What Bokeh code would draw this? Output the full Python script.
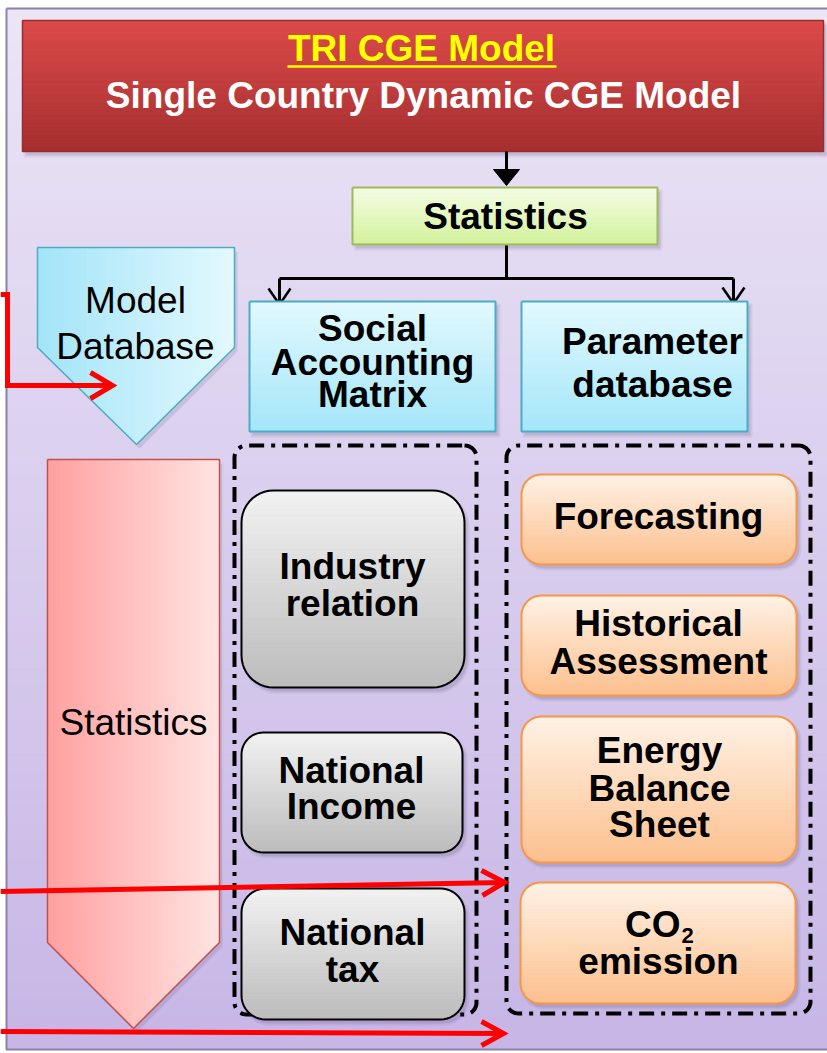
import numpy as np
from bokeh.plotting import figure
from bokeh.models import Range1d
from bokeh.core.properties import value
from bokeh.embed import file_html
from bokeh.resources import INLINE

# ---------------- content ----------------
title_text = "TRI CGE Model"
subtitle_text = "Single Country Dynamic CGE Model"
top_stat_label = ["Statistics"]
db_label = ["Model", "Database"]
side_stat_label = ["Statistics"]
blue_labels = [["Social", "Accounting", "Matrix"], ["Parameter", "database"]]
gray_labels = [["Industry", "relation"], ["National", "Income"], ["National", "tax"]]
orange_labels = [["Forecasting"], ["Historical", "Assessment"],
                 ["Energy", "Balance", "Sheet"], ["CO", "emission"]]
co2_sub = "2"

# ---------------- geometry (image pixel coords, y downward) ----------------
panel = (6, 8, 845, 1049)
title_box = (22, 20, 823, 151)
green_box = (352, 187, 657, 244)
blue_boxes = [(249, 301, 495, 431), (521, 301, 747, 431)]
db_arrow = (37, 247, 234, 347, 136, 444)
side_arrow = (47, 459, 219, 942, 133, 1028)
gray_boxes = [(241, 490, 464, 687), (241, 732, 462, 852), (241, 888, 464, 1019)]
gray_radius = [32, 22, 24]
orange_boxes = [(521, 474, 796, 564), (521, 595, 796, 695),
                (521, 716, 796, 862), (520, 882, 795, 1003)]
dash_boxes = [(234, 445, 476, 1014), (506, 445, 810, 1013)]

# text centres (cap middle)
title_pos = (421, 48)
subtitle_pos = (423, 95)
top_stat_pos = (505, [216])
db_pos = (135, [300, 346])
side_stat_pos = (133, [722])
blue_pos = [(372, [328, 362, 394]), (652, [341, 384])]
gray_pos = [(352, [566, 603]), (351, [770, 806]), (352, [932, 969])]
orange_pos = [(658, [516]), (658, [623, 661]), (659, [750, 788, 824]), (658, [924, 961])]

FONT = value("Liberation Sans")
FS = "37px"

W, H = 827, 1053
p = figure(width=W, height=H, x_range=Range1d(0, W), y_range=Range1d(H, 0),
           output_backend="svg", toolbar_location=None, min_border=0)
p.axis.visible = False
p.grid.visible = False
p.outline_line_color = None
p.background_fill_color = "white"
p.border_fill_color = "white"


def hex2rgb(h):
    h = h.lstrip('#')
    return tuple(int(h[i:i + 2], 16) for i in (0, 2, 4))


def lerp(c0, c1, t):
    a, b = hex2rgb(c0), hex2rgb(c1)
    return "#%02x%02x%02x" % tuple(int(round(a[i] + (b[i] - a[i]) * t)) for i in range(3))


def rr_poly(x0, y0, x1, y1, r, n=12):
    xs, ys = [], []
    corners = [(x1 - r, y0 + r, -90, 0), (x1 - r, y1 - r, 0, 90),
               (x0 + r, y1 - r, 90, 180), (x0 + r, y0 + r, 180, 270)]
    for cx, cy, a0, a1 in corners:
        for a in np.linspace(np.radians(a0), np.radians(a1), n):
            xs.append(cx + r * np.cos(a))
            ys.append(cy + r * np.sin(a))
    xs.append(xs[0]); ys.append(ys[0])
    return xs, ys


def vgrad(x0, y0, x1, y1, r, c0, c1, n=40):
    xs_l, ys_l, cols = [], [], []
    edges = np.linspace(y0, y1, n + 1)

    def ins(y):
        if r <= 0:
            return 0.0
        d = max(0.0, (y0 + r) - y, y - (y1 - r))
        return r - np.sqrt(max(0.0, r * r - d * d))
    for i in range(n):
        yy = np.linspace(edges[i], edges[i + 1], 5)
        L = [x0 + ins(y) for y in yy]
        R = [x1 - ins(y) for y in yy]
        xs_l.append(L + R[::-1])
        ys_l.append(list(yy) + list(yy[::-1]))
        cols.append(lerp(c0, c1, (i + 0.5) / n))
    p.patches(xs_l, ys_l, fill_color=cols, line_color=cols, line_width=1)


def pent_grad(x0, y0, x1, ysh, xt, yt, c0, c1, n=40):
    def bot(x):
        if x <= xt:
            return ysh + (yt - ysh) * (x - x0) / (xt - x0)
        return ysh + (yt - ysh) * (x1 - x) / (x1 - xt)
    edges = np.linspace(x0, x1, n + 1)
    xs_l, ys_l, cols = [], [], []
    for i in range(n):
        xa, xb = edges[i], edges[i + 1]
        pts = [xa] + ([xt] if xa < xt < xb else []) + [xb]
        xs_l.append([xa, xb] + pts[::-1])
        ys_l.append([y0, y0] + [bot(x) for x in pts[::-1]])
        cols.append(lerp(c0, c1, (i + 0.5) / n))
    p.patches(xs_l, ys_l, fill_color=cols, line_color=cols, line_width=1)


def pent_outline(x0, y0, x1, ysh, xt, yt):
    return [x0, x1, x1, xt, x0, x0], [y0, y0, ysh, yt, ysh, y0]


def shadow_rr(x0, y0, x1, y1, r, dx=3, dy=4):
    for k, a in [(2, 0.08), (0, 0.12)]:
        xs, ys = rr_poly(x0 + dx - k, y0 + dy - k, x1 + dx + k, y1 + dy + k, r + k)
        p.patch(xs, ys, fill_color="#3c2d5a", fill_alpha=a, line_color=None)


def texts(lines, x, ys, size=FS, bold=True, color="black", align="center"):
    p.text(x=[x] * len(lines), y=ys, text=lines, text_font=FONT, text_font_size=size,
           text_font_style="bold" if bold else "normal", text_color=color,
           text_align=align, text_baseline="middle")


# ---------------- panel ----------------
vgrad(*panel, 0, "#ebe5f6", "#c7b6e6", n=60)
px0, py0, px1, py1 = panel
p.line([px0, px1, px1, px0, px0], [py0, py0, py1, py1, py0], line_color="#8b80ae", line_width=2)

# ---------------- dashed groups ----------------
for (x0, y0, x1, y1) in dash_boxes:
    xs, ys = rr_poly(x0, y0, x1, y1, 12)
    p.line(xs, ys, line_color="black", line_width=4, line_dash="15 7 4 7")

# ---------------- title box ----------------
shadow_rr(*title_box, 0)
vgrad(*title_box, 0, "#dd4a4a", "#a52f2f", n=50)
tx0, ty0, tx1, ty1 = title_box
p.line([tx0, tx1, tx1, tx0, tx0], [ty0, ty0, ty1, ty1, ty0], line_color="#9a2c2c", line_width=1.5)
texts([title_text], title_pos[0], [title_pos[1]], color="#ffff00")
p.line([287, 556], [66, 66], line_color="#ffff00", line_width=2.5)
texts([subtitle_text], subtitle_pos[0], [subtitle_pos[1]], color="white")

# ---------------- connectors (black) ----------------
p.line([506, 506], [151, 172], line_color="black", line_width=3)
p.patch([493, 519, 506], [169, 169, 185], fill_color="black", line_color="black")
p.line([506, 506], [244, 278], line_color="black", line_width=3)
p.line([279, 733], [278, 278], line_color="black", line_width=3)
p.multi_line([[279, 279], [733, 733]], [[278, 304], [278, 303]], line_color="black", line_width=3)
p.multi_line([[268, 279, 290], [722, 733, 744]], [[288, 304, 288], [287, 303, 287]],
             line_color="black", line_width=2.5)

# ---------------- green statistics box ----------------
shadow_rr(*green_box, 0)
vgrad(*green_box, 0, "#f5fde6", "#d3f29c", n=30)
gx0, gy0, gx1, gy1 = green_box
p.line([gx0, gx1, gx1, gx0, gx0], [gy0, gy0, gy1, gy1, gy0], line_color="#9bbb59", line_width=2)
texts(top_stat_label, top_stat_pos[0], top_stat_pos[1])

# ---------------- blue boxes ----------------
for (x0, y0, x1, y1), lines, (cx, ys) in zip(blue_boxes, blue_labels, blue_pos):
    shadow_rr(x0, y0, x1, y1, 0)
    vgrad(x0, y0, x1, y1, 0, "#e3f9fe", "#a4e6f9", n=40)
    p.line([x0, x1, x1, x0, x0], [y0, y0, y1, y1, y0], line_color="#4bacc6", line_width=2)
    texts(lines, cx, ys)

# ---------------- model database pentagon ----------------
ox, oy = pent_outline(*db_arrow)
p.patch([x + 3 for x in ox], [y + 4 for y in oy], fill_color="#3c2d5a", fill_alpha=0.12, line_color=None)
pent_grad(*db_arrow, "#a3e4f8", "#e3f9fe")
p.line(ox, oy, line_color="#4bacc6", line_width=1.5)
texts(db_label, db_pos[0], db_pos[1], bold=False)

# ---------------- side statistics pentagon ----------------
ox, oy = pent_outline(*side_arrow)
p.patch([x + 3 for x in ox], [y + 4 for y in oy], fill_color="#3c2d5a", fill_alpha=0.12, line_color=None)
pent_grad(*side_arrow, "#ffa0a0", "#ffe4e1")
p.line(ox, oy, line_color="#c0504d", line_width=1.5)
texts(side_stat_label, side_stat_pos[0], side_stat_pos[1], bold=False)

# ---------------- gray boxes ----------------
for (x0, y0, x1, y1), r, lines, (cx, ys) in zip(gray_boxes, gray_radius, gray_labels, gray_pos):
    shadow_rr(x0, y0, x1, y1, r)
    vgrad(x0, y0, x1, y1, r, "#f2f2f2", "#bcbcbc", n=40)
    xs, ys2 = rr_poly(x0, y0, x1, y1, r)
    p.line(xs, ys2, line_color="black", line_width=2)
    texts(lines, cx, ys)

# ---------------- orange boxes ----------------
for (x0, y0, x1, y1), lines, (cx, ys) in zip(orange_boxes, orange_labels, orange_pos):
    r = 20
    shadow_rr(x0, y0, x1, y1, r)
    vgrad(x0, y0, x1, y1, r, "#fff2e6", "#fcc08e", n=40)
    xs, ys2 = rr_poly(x0, y0, x1, y1, r)
    p.line(xs, ys2, line_color="#f79646", line_width=2)
    if lines[0] == "CO":
        texts(["CO"], 680, [ys[0]], align="right")
        texts([co2_sub], 681, [ys[0] + 11], size="22px", align="left")
        texts([lines[1]], cx, [ys[1]])
    else:
        texts(lines, cx, ys)

# ---------------- red arrows ----------------
RED = "#ff0000"
p.line([0, 7, 7, 110], [294, 294, 385, 385], line_color=RED, line_width=5, line_join="miter")
p.line([0, 503], [891, 882], line_color=RED, line_width=5)
p.line([0, 501], [1031, 1033], line_color=RED, line_width=5)
p.multi_line([[90, 112, 90], [481, 504, 482], [481, 503, 481]],
             [[372, 385, 398], [870, 882, 895], [1021, 1033, 1045]],
             line_color=RED, line_width=5, line_join="miter")

open("out.html", "w").write(file_html(p, INLINE))
